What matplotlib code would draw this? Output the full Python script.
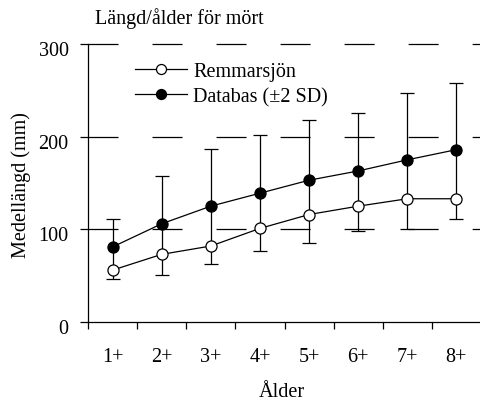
import matplotlib
matplotlib.use("Agg")
import matplotlib.pyplot as plt
import matplotlib.transforms as mtransforms
import numpy as np

categories = ["1+", "2+", "3+", "4+", "5+", "6+", "7+", "8+"]
remmarsjon = [56, 73, 82, 101, 116, 125, 133, 133]
databas = [81, 106, 125, 139, 153, 163, 175, 186]
databas_upper = [111, 158, 187, 202, 218, 226, 247, 258]
databas_lower = [46, 51, 63, 77, 85, 98, 100, 111]
yticks = [0, 100, 200, 300]

plt.rcParams['font.family'] = ['Liberation Serif', 'DejaVu Serif']
plt.rcParams['lines.scale_dashes'] = False
FS = 14.5

W, H = 481, 402
fig = plt.figure(figsize=(W / 100, H / 100), dpi=100)
ax = fig.add_axes([88 / W, (H - 323) / H, (W - 88) / W, (323 - 45) / H])

x = np.arange(len(categories)) + 0.5
db = np.array(databas)
yerr = [db - np.array(databas_lower), np.array(databas_upper) - db]

# grid lines
for yv in yticks[1:]:
    ax.axhline(yv, color='black', lw=0.9, dashes=(21.6, 24.5), zorder=1, clip_on=False)

ax.errorbar(x, db, yerr=yerr, fmt='none', ecolor='black', elinewidth=0.9,
            capsize=5, capthick=0.9, zorder=2)
ax.plot(x, remmarsjon, '-o', color='black', lw=0.9, markersize=8,
        markerfacecolor='white', markeredgecolor='black', markeredgewidth=0.9,
        zorder=3, label='Remmarsjön')
ax.plot(x, databas, '-o', color='black', lw=0.9, markersize=8,
        markerfacecolor='black', markeredgecolor='black', markeredgewidth=0.9,
        zorder=4, label='Databas (±2 SD)')

ax.set_xlim(0, 8)
ax.set_ylim(0, 300)
ax.set_yticks(yticks)
ax.set_yticklabels([str(v) for v in yticks], fontsize=FS)
ax.set_xticks(np.arange(0, 9))
ax.set_xticklabels([])
ax.set_xticks(x, minor=True)
ax.set_xticklabels(categories, minor=True, fontsize=FS)
ax.tick_params(axis='x', which='major', direction='out', length=5, width=0.9)
ax.tick_params(axis='x', which='minor', length=0, pad=18)
ax.tick_params(axis='y', direction='out', length=6, width=0.9, pad=8)
offset = mtransforms.ScaledTranslation(0, -4 / 100, fig.dpi_scale_trans)
for lab in ax.get_yticklabels():
    lab.set_transform(lab.get_transform() + offset)

for s in ['top', 'right']:
    ax.spines[s].set_visible(False)
for s in ['left', 'bottom']:
    ax.spines[s].set_linewidth(0.9)
ax.patch.set_visible(False)

leg = ax.legend(loc='upper left', bbox_to_anchor=(135 / W, 1 - 63 / H),
                bbox_transform=fig.transFigure, frameon=False, fontsize=FS,
                handlelength=2.6, handletextpad=0.3, borderpad=0, borderaxespad=0,
                labelspacing=0.3, markerscale=0.9)

fig.text(95 / W, 1 - 24 / H, "Längd/ålder för mört", fontsize=FS, ha='left', va='baseline')
fig.text(21 / W, 1 - 185 / H, "Medellängd (mm)", fontsize=FS, rotation=90,
         ha='center', va='center')
fig.text(282 / W, 1 - 397 / H, "Ålder", fontsize=FS, ha='center', va='baseline')

fig.savefig('out.png', dpi=100)
